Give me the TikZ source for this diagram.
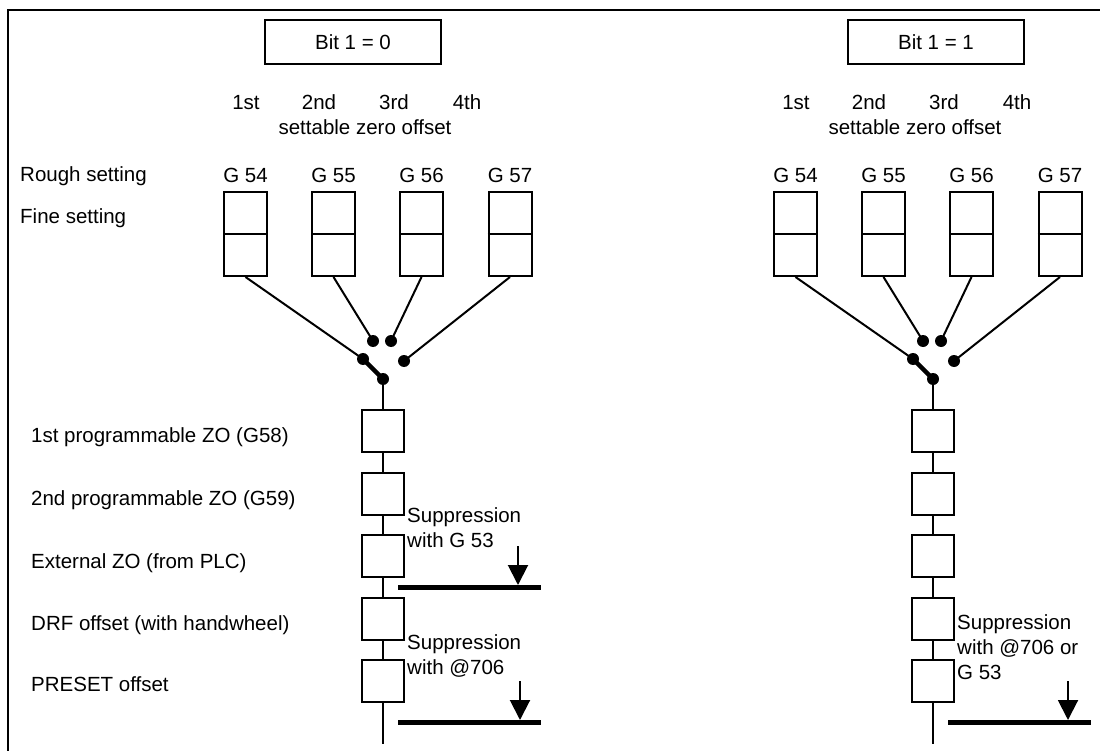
\documentclass[tikz,border=0pt]{standalone}
\usepackage{fontspec}
\setmainfont{Liberation Sans}
\usetikzlibrary{arrows.meta}
\begin{document}
\begin{tikzpicture}[x=1pt,y=-1pt,
  every node/.style={font=\fontsize{20.5}{25}\selectfont, inner sep=0pt},
  thin line/.style={line width=2pt},
  gbox/.style={draw, line width=2pt, minimum width=43pt, minimum height=84pt},
  zbox/.style={draw, line width=2pt, minimum width=42pt, minimum height=42pt},
  bitbox/.style={draw, line width=2pt, minimum width=176pt, minimum height=44pt},
  dot/.style={circle, fill, minimum size=12pt},
  bar/.style={line width=5pt},
  supp/.style={line width=2pt, -{Triangle[width=20pt,length=20pt]}},
  lbl/.style={anchor=base west},
  clbl/.style={anchor=base}
]
\useasboundingbox (0,0) rectangle (1100,751);
% frame
\draw[line width=2pt] (8,751) -- (8,10) -- (1100,10);

% bit boxes
\node[bitbox] (bitL) at (353,42) {Bit 1 = 0};
\node[bitbox] (bitR) at (936,42) {Bit 1 = 1};

% left labels
\node[lbl] (rough) at (20,182) {Rough setting};
\node[lbl] (fine) at (20,224) {Fine setting};
\node[lbl] (zo1) at (31,442) {1st programmable ZO (G58)};
\node[lbl] (zo2) at (31,505) {2nd programmable ZO (G59)};
\node[lbl] (zo3) at (31,568) {External ZO (from PLC)};
\node[lbl] (zo4) at (31,630) {DRF offset (with handwheel)};
\node[lbl] (zo5) at (31,691) {PRESET offset};

\foreach \p/\ox in {L/0,R/550}{
  % ordinal labels
  \node[clbl] (\p o1) at (246+\ox,110) {1st};
  \node[clbl] (\p o2) at (319+\ox,110) {2nd};
  \node[clbl] (\p o3) at (394+\ox,110) {3rd};
  \node[clbl] (\p o4) at (467+\ox,110) {4th};
  \node[clbl] (\p set) at (365+\ox,135) {settable zero offset};
  % G boxes
  \foreach \i/\g/\cx in {1/54/245.5,2/55/333.5,3/56/421.5,4/57/510}{
    \node[clbl] (\p gl\i) at (\cx+\ox,183) {G \g};
    \node[gbox] (\p g\i) at (\cx+\ox,234) {};
    \draw[thin line] (\p g\i.west) -- (\p g\i.east);
  }
  % switch dots
  \node[dot] (\p d1) at (363+\ox,359) {};
  \node[dot] (\p d2) at (373+\ox,341) {};
  \node[dot] (\p d3) at (391+\ox,341) {};
  \node[dot] (\p d4) at (404+\ox,361) {};
  \node[dot] (\p pv) at (383+\ox,379) {};
  \draw[thin line] (\p g1.south) -- (\p d1.center);
  \draw[thin line] (\p g2.south) -- (\p d2.center);
  \draw[thin line] (\p g3.south) -- (\p d3.center);
  \draw[thin line] (\p g4.south) -- (\p d4.center);
  \draw[line width=4.5pt] (\p d1.center) -- (\p pv.center);
  % chain
  \node[zbox] (\p z1) at (383+\ox,431) {};
  \node[zbox] (\p z2) at (383+\ox,493.5) {};
  \node[zbox] (\p z3) at (383+\ox,556) {};
  \node[zbox] (\p z4) at (383+\ox,618.5) {};
  \node[zbox] (\p z5) at (383+\ox,681) {};
  \coordinate (\p end) at (383+\ox,744);
  \draw[thin line] (\p pv.center) -- (\p z1.north);
  \draw[thin line] (\p z1.south) -- (\p z2.north);
  \draw[thin line] (\p z2.south) -- (\p z3.north);
  \draw[thin line] (\p z3.south) -- (\p z4.north);
  \draw[thin line] (\p z4.south) -- (\p z5.north);
  \draw[thin line] (\p z5.south) -- (\p end);
}

% left suppressions
\node[lbl, align=left] (sL1) at (407,547) {Suppression\\with G 53};
\coordinate (bL1a) at (398,587);
\coordinate (bL1b) at (541,587);
\draw[bar] (bL1a) -- (bL1b);
\coordinate (aL1) at (518,546);
\coordinate (tL1) at (518,585);
\draw[supp] (aL1) -- (tL1);

\node[lbl, align=left] (sL2) at (407,674) {Suppression\\with @706};
\coordinate (bL2a) at (398,722);
\coordinate (bL2b) at (541,722);
\draw[bar] (bL2a) -- (bL2b);
\coordinate (aL2) at (520,681);
\coordinate (tL2) at (520,720);
\draw[supp] (aL2) -- (tL2);

% right suppression
\node[lbl, align=left] (sR) at (957,679) {Suppression\\with @706 or\\G 53};
\coordinate (bRa) at (948,722);
\coordinate (bRb) at (1091,722);
\draw[bar] (bRa) -- (bRb);
\coordinate (aR) at (1068,681);
\coordinate (tR) at (1068,720);
\draw[supp] (aR) -- (tR);
\end{tikzpicture}
\end{document}
